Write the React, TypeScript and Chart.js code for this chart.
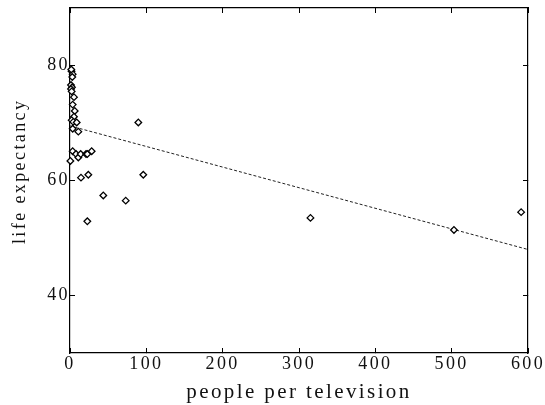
import React, { useEffect, useRef } from "react";
import { Chart, registerables } from "chart.js";

Chart.register(...registerables);

// scatter data: people per television vs life expectancy
const peoplePerTV: number[] = [
  2, 3.5, 3, 1.7, 1.3, 2.6, 1.3, 2.2, 5.2, 3.5, 6.2, 5.2, 2.2, 4.3, 8.8, 3.5,
  10.9, 89.5, 3.5, 7.9, 10.9, 14, 21, 22.7, 28.4, 0.5, 14.4, 24, 96, 43.6, 73,
  22.7, 315, 503, 591,
];
const lifeExpectancy: number[] = [
  79, 78.5, 78, 79.3, 76.6, 76.2, 75.9, 75.5, 74.5, 73.2, 72.1, 71.1, 70.5,
  70.2, 70.1, 69, 68.5, 70.1, 65.1, 64.6, 64, 64.6, 64.6, 64.6, 65.1, 63.4,
  60.5, 61, 61, 57.4, 56.5, 52.9, 53.5, 51.4, 54.5,
];

// fitted line end points
const trendX: number[] = [0, 600];
const trendY: number[] = [69.5, 48.0];

const xTicks: number[] = [0, 100, 200, 300, 400, 500, 600];
const yTicks: number[] = [40, 60, 80];

const FONT = "'Liberation Serif', 'Times New Roman', serif";
const TEXT = "#111";
const SPACING = "2.4px";

const spacingPlugin = {
  id: "letterSpacing",
  beforeUpdate(c: any) {
    c.ctx.letterSpacing = SPACING;
  },
  beforeLayout(c: any) {
    c.ctx.letterSpacing = SPACING;
  },
  beforeDraw(c: any) {
    c.ctx.letterSpacing = SPACING;
  },
};

export default function App() {
  const ref = useRef<HTMLCanvasElement | null>(null);

  useEffect(() => {
    document.body.style.margin = "0";
    const canvas = ref.current;
    if (!canvas) return;

    const setX = (s: any) => {
      s.ticks = xTicks.map((v) => ({ value: v }));
    };
    const setY = (s: any) => {
      s.ticks = yTicks.map((v) => ({ value: v }));
    };
    const noPad = (s: any) => {
      s.paddingLeft = 0;
      s.paddingRight = 0;
      s.paddingTop = 0;
      s.paddingBottom = 0;
    };

    const inner = {
      drawOnChartArea: false,
      drawTicks: true,
      tickLength: -5,
      color: "#000",
      lineWidth: 1,
    };
    const border = { display: true, color: "#000", width: 1.2 };

    const chart = new Chart(canvas, {
      type: "scatter",
      data: {
        datasets: [
          {
            label: "countries",
            data: peoplePerTV.map((x, i) => ({ x, y: lifeExpectancy[i] })),
            pointStyle: "rectRot",
            pointRadius: 3.3,
            pointBorderWidth: 1.3,
            borderColor: "#000",
            backgroundColor: "#fff",
            pointBackgroundColor: "#fff",
            pointBorderColor: "#000",
            clip: false as any,
            order: 0,
          },
          {
            label: "fit",
            data: trendX.map((x, i) => ({ x, y: trendY[i] })),
            showLine: true,
            pointRadius: 0,
            borderColor: "#222",
            borderWidth: 1,
            borderDash: [3, 2],
            order: 1,
          } as any,
        ],
      },
      options: {
        animation: false,
        responsive: false,
        devicePixelRatio: 1,
        layout: { padding: { left: 0, right: 17, top: 8, bottom: 0 } },
        plugins: {
          legend: { display: false },
          tooltip: { enabled: false },
        },
        scales: {
          x: {
            type: "linear",
            position: "bottom",
            min: 0,
            max: 600,
            afterBuildTicks: setX,
            afterFit: (s: any) => {
              s.height = 52;
              noPad(s);
            },
            grid: inner,
            border,
            ticks: {
              padding: 5,
              color: TEXT,
              font: { family: FONT, size: 18 },
              maxRotation: 0,
            },
            title: {
              display: true,
              text: "people per television",
              color: TEXT,
              font: { family: FONT, size: 21 },
              padding: { top: 0, bottom: 0 },
            },
          },
          x2: {
            type: "linear",
            position: "top",
            min: 0,
            max: 600,
            afterBuildTicks: setX,
            afterFit: (s: any) => {
              s.height = 0;
              noPad(s);
            },
            grid: inner,
            border,
            ticks: { display: false },
          },
          y: {
            type: "linear",
            position: "left",
            min: 30,
            max: 90,
            afterBuildTicks: setY,
            afterFit: (s: any) => {
              s.width = 70;
              noPad(s);
            },
            grid: inner,
            border,
            ticks: {
              padding: 5,
              color: TEXT,
              font: { family: FONT, size: 18 },
            },
            title: {
              display: true,
              text: "\u2002 life expectancy",
              color: TEXT,
              font: { family: FONT, size: 18 },
              padding: { top: 9, bottom: 0 },
            },
          },
          y2: {
            type: "linear",
            position: "right",
            min: 30,
            max: 90,
            afterBuildTicks: setY,
            afterFit: (s: any) => {
              s.width = 0;
              noPad(s);
            },
            grid: inner,
            border,
            ticks: { display: false },
          },
        },
      } as any,
      plugins: [spacingPlugin],
    });

    return () => chart.destroy();
  }, []);

  return (
    <div style={{ width: 545, height: 405 }}>
      <canvas ref={ref} width={545} height={405} style={{ display: "block" }} />
    </div>
  );
}
